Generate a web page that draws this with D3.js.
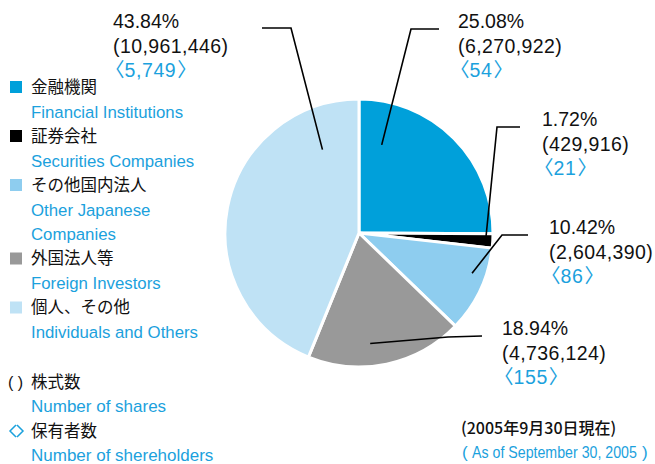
<!DOCTYPE html>
<html>
<head>
<meta charset="utf-8">
<script src="https://cdn.jsdelivr.net/npm/d3@7"></script>
<style>
  body { margin: 0; background: #fff; }
  svg { display: block; }
</style>
</head>
<body>
<div id="chart-container"></div>
<script>
const categoriesJa = ["金融機関", "証券会社", "その他国内法人", "外国法人等", "個人、その他"];
const categoriesEn = [["Financial Institutions"], ["Securities Companies"], ["Other Japanese", "Companies"], ["Foreign Investors"], ["Individuals and Others"]];
const sharePct = [25.08, 1.72, 10.42, 18.94, 43.84];
const shareCounts = [6270922, 429916, 2604390, 4736124, 10961446];
const holderCounts = [54, 21, 86, 155, 5749];
const sliceColors = ["#00a0da", "#000000", "#8ecdef", "#999999", "#bfe2f5"];

const width = 655, height = 464;
const blue = "#1ba1dd";
const numFont = "'Liberation Sans', Arial, sans-serif";
const jaFont = "'Noto Sans CJK JP', sans-serif";

// label placement: text origin, elbow of leader, outer end of leader, and where it touches the slice
const labelLayout = [
  { tx: 458, ty: 28,  elbow: [411, 29],  end: [439, 29],  t: 0.16, r: 91 },
  { tx: 542, ty: 126, elbow: [497, 127], end: [520, 127], t: 0.3,  r: 127 },
  { tx: 549, ty: 234, elbow: [502, 235], end: [528, 235], t: 0.35, r: 120 },
  { tx: 502, ty: 335, elbow: [448, 337], end: [482, 336], t: 0.59, r: 111 },
  { tx: 113, ty: 28,  elbow: [291, 28],  end: [262, 28],  t: 0.85, r: 91 }
];

const cx = 359, cy = 233, radius = 134;

const svg = d3.select("#chart-container")
  .append("svg")
  .attr("width", width)
  .attr("height", height);

const pie = d3.pie().sort(null).value(d => d);
const arcs = pie(shareCounts);
const arc = d3.arc().innerRadius(0).outerRadius(radius);

const pieG = svg.append("g").attr("transform", `translate(${cx},${cy})`);

pieG.selectAll("path")
  .data(arcs)
  .join("path")
  .attr("d", arc)
  .attr("fill", (d, i) => sliceColors[i])
  .attr("stroke", "#fff")
  .attr("stroke-width", 3)
  .attr("stroke-linejoin", "round");

// leader lines + value labels
const fmt = d3.format(",");
arcs.forEach((a, i) => {
  const L = labelLayout[i];
  const ang = a.startAngle + (a.endAngle - a.startAngle) * L.t;
  const [px, py] = d3.pointRadial(ang, L.r);
  svg.append("polyline")
    .attr("points", [[cx + px, cy + py], L.elbow, L.end].map(p => p.join(",")).join(" "))
    .attr("fill", "none")
    .attr("stroke", "#000")
    .attr("stroke-width", 1.6);

  const g = svg.append("g")
    .attr("transform", `translate(${L.tx},${L.ty})`)
    .attr("font-family", numFont)
    .attr("font-size", 19.5);
  g.append("text")
    .attr("fill", "#111")
    .text(sharePct[i].toFixed(2) + "%");
  g.append("text")
    .attr("y", 24.5)
    .attr("letter-spacing", 0.4)
    .attr("fill", "#111")
    .text("(" + fmt(shareCounts[i]) + ")");
  const t3 = g.append("text")
    .attr("y", 49)
    .attr("fill", blue);
  t3.append("tspan").attr("font-family", jaFont).attr("dx", -8).text("〈");
  t3.append("tspan").attr("letter-spacing", 0.6).text(fmt(holderCounts[i]));
  t3.append("tspan").attr("font-family", jaFont).attr("dx", 1).text("〉");
});

// legend
const rowH = 24.5;
let row = 0;
const legend = svg.append("g");
categoriesJa.forEach((name, i) => {
  const y = 87 + row * rowH;
  legend.append("rect")
    .attr("x", 10).attr("y", y - 6)
    .attr("width", 12).attr("height", 12)
    .attr("fill", sliceColors[i]);
  legend.append("text")
    .attr("x", 31).attr("y", y).attr("dy", "0.36em")
    .attr("font-family", jaFont).attr("font-size", 16.5)
    .attr("fill", "#111")
    .text(name);
  row++;
  categoriesEn[i].forEach(line => {
    legend.append("text")
      .attr("x", 31).attr("y", 87 + row * rowH).attr("dy", "0.36em")
      .attr("font-family", numFont).attr("font-size", 16.8)
      .attr("fill", blue)
      .text(line);
    row++;
  });
});

// key for the bracket notation
const keyRows = [
  { ja: "株式数", en: "Number of shares" },
  { ja: "保有者数", en: "Number of shereholders" }
];
keyRows.forEach((k, i) => {
  const y = 382 + i * 49;
  legend.append("text")
    .attr("x", 31).attr("y", y).attr("dy", "0.36em")
    .attr("font-family", jaFont).attr("font-size", 16.5)
    .attr("fill", "#111")
    .text(k.ja);
  legend.append("text")
    .attr("x", 31).attr("y", y + 24).attr("dy", "0.35em")
    .attr("font-family", numFont).attr("font-size", 17)
    .attr("fill", blue)
    .text(k.en);
});
legend.append("text")
  .attr("x", 8).attr("y", 382).attr("dy", "0.36em")
  .attr("font-family", numFont).attr("font-size", 16)
  .attr("fill", "#111")
  .text("( )");
legend.append("path")
  .attr("d", `M16,${431 - 6}L10,${431}L16,${431 + 6}M17,${431 - 6}L23,${431}L17,${431 + 6}`)
  .attr("fill", "none")
  .attr("stroke", blue)
  .attr("stroke-width", 1.5);

// as-of note
svg.append("text")
  .attr("x", 461).attr("y", 428).attr("dy", "0.36em")
  .attr("font-family", jaFont).attr("font-size", 16).attr("font-weight", 500)
  .attr("fill", "#111")
  .text("(2005年9月30日現在)");
const note = svg.append("g")
  .attr("font-family", numFont).attr("font-size", 17)
  .attr("fill", blue);
note.append("text").attr("x", 462).attr("y", 458).text("(");
note.append("text")
  .attr("transform", "translate(472,458) scale(0.835,1)")
  .text("As of September 30, 2005");
note.append("text").attr("x", 642).attr("y", 458).text(")");
</script>
</body>
</html>
